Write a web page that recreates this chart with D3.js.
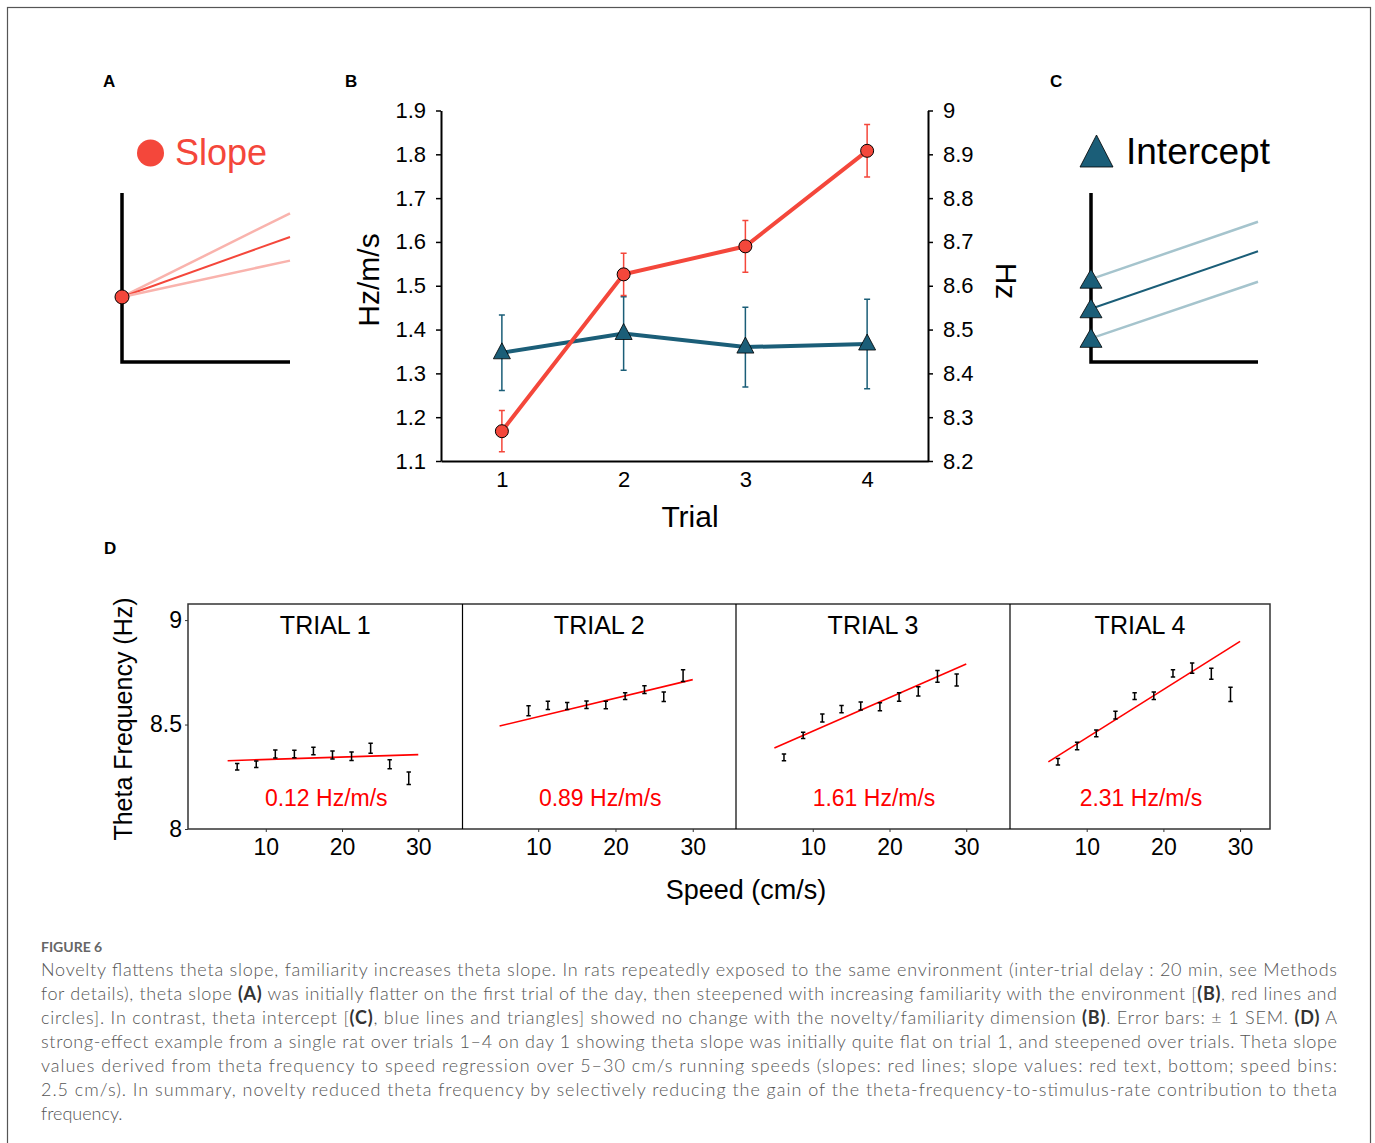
<!DOCTYPE html>
<html>
<head>
<meta charset="utf-8">
<title>Figure 6</title>
<script src="https://cdn.jsdelivr.net/npm/d3@7"></script>
<style>
  body { margin: 0; background: #fff; }
  svg text { font-family: "Liberation Sans", Arial, sans-serif; }
  .caption text { font-family: Lato, "Open Sans", sans-serif; }
</style>
</head>
<body>
<script>
// ---------------- data ----------------
// panel B: mean theta slope (Hz/m/s, left axis) and intercept (Hz, right axis) per trial
var trials = [1, 2, 3, 4];
var slopeMean = [1.168, 1.526, 1.590, 1.808];
var slopeSem = [0.047, 0.048, 0.059, 0.060];
var interceptMean = [8.447, 8.491, 8.460, 8.467];
var interceptSem = [0.086, 0.084, 0.091, 0.102];
var slopeTicks = [1.1, 1.2, 1.3, 1.4, 1.5, 1.6, 1.7, 1.8, 1.9];
var hzTicks = [8.2, 8.3, 8.4, 8.5, 8.6, 8.7, 8.8, 8.9, 9];

// panel A / C: schematic lines (0..1 units)
var slopeDemoStart = 0.385;
var slopeDemoEnds = [0.88, 0.74, 0.60];
var interceptDemoStarts = [0.49, 0.315, 0.14];
var interceptDemoEnds = [0.83, 0.655, 0.475];

// panel D: theta frequency vs running speed, one rat, day 1
var speedBins = [6.25, 8.75, 11.25, 13.75, 16.25, 18.75, 21.25, 23.75, 26.25, 28.75];
var trialNames = ["TRIAL 1", "TRIAL 2", "TRIAL 3", "TRIAL 4"];
var trial1Freq = [8.298, 8.310, 8.359, 8.359, 8.373, 8.354, 8.348, 8.386, 8.310, 8.243];
var trial1Err = [0.016, 0.016, 0.019, 0.018, 0.018, 0.019, 0.020, 0.024, 0.022, 0.030];
var trial2Freq = [null, 8.566, 8.592, 8.589, 8.595, 8.593, 8.636, 8.667, 8.633, 8.734];
var trial2Err = [null, 0.024, 0.020, 0.017, 0.018, 0.018, 0.016, 0.019, 0.023, 0.028];
var trial3Freq = [8.343, 8.448, 8.531, 8.574, 8.589, 8.585, 8.632, 8.659, 8.731, 8.713];
var trial3Err = [0.016, 0.015, 0.019, 0.017, 0.019, 0.019, 0.020, 0.022, 0.028, 0.029];
var trial4Freq = [8.322, 8.397, 8.458, 8.545, 8.636, 8.638, 8.745, 8.770, 8.743, 8.644];
var trial4Err = [0.016, 0.018, 0.016, 0.019, 0.016, 0.018, 0.017, 0.024, 0.026, 0.034];
// regression line ends at 5 and 30 cm/s
var fitSpeeds = [5, 30];
var fitAt5 = [8.327, 8.493, 8.388, 8.321];
var fitAt30 = [8.356, 8.715, 8.790, 8.898];
var slopeLabels = ["0.12 Hz/m/s", "0.89 Hz/m/s", "1.61 Hz/m/s", "2.31 Hz/m/s"];
var speedTicks = [10, 20, 30];
var freqTicks = [8, 8.5, 9];

var captionLines = [
  "Novelty flattens theta slope, familiarity increases theta slope. In rats repeatedly exposed to the same environment (inter-trial delay : 20 min, see Methods",
  "for details), theta slope (A) was initially flatter on the first trial of the day, then steepened with increasing familiarity with the environment [(B), red lines and",
  "circles]. In contrast, theta intercept [(C), blue lines and triangles] showed no change with the novelty/familiarity dimension (B). Error bars: \u00b1 1 SEM. (D) A",
  "strong-effect example from a single rat over trials 1\u20134 on day 1 showing theta slope was initially quite flat on trial 1, and steepened over trials. Theta slope",
  "values derived from theta frequency to speed regression over 5\u201330 cm/s running speeds (slopes: red lines; slope values: red text, bottom; speed bins:",
  "2.5 cm/s). In summary, novelty reduced theta frequency by selectively reducing the gain of the theta-frequency-to-stimulus-rate contribution to theta",
  "frequency."
];

// ---------------- colours ----------------
var red = "#f4473b";
var redLight = "#f9b3ad";
var blue = "#1b5e78";
var blueLight = "#a5c4cd";

var svg = d3.select("body").append("svg")
  .attr("width", 1375)
  .attr("height", 1143);

// frame round the whole figure
svg.append("rect")
  .attr("x", 7.5).attr("y", 7.5)
  .attr("width", 1363).attr("height", 1200)
  .attr("fill", "none").attr("stroke", "#555").attr("stroke-width", 1.2);

// panel letters
[["A", 103, 87], ["B", 345, 87], ["C", 1050, 87], ["D", 104, 554]].forEach(function(p) {
  svg.append("text").attr("x", p[1]).attr("y", p[2])
    .attr("font-size", 17).attr("font-weight", "bold").text(p[0]);
});

// ---------------- panel A ----------------
var ax = d3.scaleLinear().domain([0, 1]).range([122, 290]);
var ay = d3.scaleLinear().domain([0, 1]).range([362, 193]);
var gA = svg.append("g");
gA.append("circle").attr("cx", 150.5).attr("cy", 153).attr("r", 13.5).attr("fill", red);
gA.append("text").attr("x", 175).attr("y", 165).attr("font-size", 36).attr("fill", red).text("Slope");
gA.selectAll(".demo").data(slopeDemoEnds).enter().append("line")
  .attr("x1", ax(0)).attr("y1", ay(slopeDemoStart))
  .attr("x2", ax(1)).attr("y2", function(d) { return ay(d); })
  .attr("stroke", function(d, i) { return i == 1 ? red : redLight; })
  .attr("stroke-width", function(d, i) { return i == 1 ? 2 : 2.5; });
gA.append("path")
  .attr("d", "M" + ax(0) + "," + ay(1) + "V" + ay(0) + "H" + ax(1))
  .attr("fill", "none").attr("stroke", "#000").attr("stroke-width", 3.5);
gA.append("circle").attr("cx", ax(0)).attr("cy", ay(slopeDemoStart)).attr("r", 7)
  .attr("fill", red).attr("stroke", "#000").attr("stroke-width", 1);

// ---------------- panel C ----------------
var cx = d3.scaleLinear().domain([0, 1]).range([1091, 1258]);
var cy = ay;
var gC = svg.append("g");
gC.append("path").attr("d", "M1096.5,135L1113,167L1080,167Z").attr("fill", blue).attr("stroke", "#000").attr("stroke-width", 0.8);
gC.append("text").attr("x", 1126).attr("y", 164).attr("font-size", 37).attr("fill", "#000").text("Intercept");
gC.selectAll(".demo").data(interceptDemoStarts).enter().append("line")
  .attr("x1", cx(0)).attr("y1", function(d) { return cy(d); })
  .attr("x2", cx(1)).attr("y2", function(d, i) { return cy(interceptDemoEnds[i]); })
  .attr("stroke", function(d, i) { return i == 1 ? blue : blueLight; })
  .attr("stroke-width", function(d, i) { return i == 1 ? 2 : 2.5; });
gC.append("path")
  .attr("d", "M" + cx(0) + "," + cy(1) + "V" + cy(0) + "H" + cx(1))
  .attr("fill", "none").attr("stroke", "#000").attr("stroke-width", 3.5);
gC.selectAll(".tri").data(interceptDemoStarts).enter().append("path")
  .attr("transform", function(d) { return "translate(" + cx(0) + "," + cy(d) + ")"; })
  .attr("d", "M0,-10L11,9L-11,9Z")
  .attr("fill", blue).attr("stroke", "#000").attr("stroke-width", 0.8);

// ---------------- panel B ----------------
var bx = d3.scaleLinear().domain([0.5, 4.5]).range([441, 928]);
var byL = d3.scaleLinear().domain([1.1, 1.9]).range([461, 110.5]);
var byR = d3.scaleLinear().domain([8.2, 9]).range([461, 110.5]);
var gB = svg.append("g");

var axL = gB.append("g").attr("transform", "translate(441,0)")
  .call(d3.axisLeft(byL).tickValues(slopeTicks).tickFormat(d3.format(".1f")).tickSize(5).tickSizeOuter(0).tickPadding(10));
var axR = gB.append("g").attr("transform", "translate(928,0)")
  .call(d3.axisRight(byR).tickValues(hzTicks).tickFormat(function(d) { return d == 9 ? "9" : d3.format(".1f")(d); }).tickSize(5).tickSizeOuter(0).tickPadding(10));
var axB = gB.append("g").attr("transform", "translate(0,461)")
  .call(d3.axisBottom(bx).tickValues(trials).tickFormat(d3.format("d")).tickSize(0).tickSizeOuter(0).tickPadding(10));
[axL, axR, axB].forEach(function(a) {
  a.selectAll("text").attr("font-size", 22).attr("fill", "#000");
  a.selectAll("line").attr("stroke", "#000").attr("stroke-width", 1.5);
  a.select(".domain").attr("stroke", "#000").attr("stroke-width", 2);
});

gB.append("text").attr("transform", "translate(379,280) rotate(-90)")
  .attr("text-anchor", "middle").attr("font-size", 30).text("Hz/m/s");
gB.append("text").attr("transform", "translate(996,281) rotate(90)")
  .attr("text-anchor", "middle").attr("font-size", 30).text("Hz");
gB.append("text").attr("x", 690).attr("y", 527)
  .attr("text-anchor", "middle").attr("font-size", 30).text("Trial");

function errorBars(g, means, sems, yScale, colour) {
  var cap = 3;
  trials.forEach(function(t, i) {
    var x = bx(t), y0 = yScale(means[i] - sems[i]), y1 = yScale(means[i] + sems[i]);
    g.append("path")
      .attr("d", "M" + x + "," + y0 + "V" + y1 + "M" + (x - cap) + "," + y0 + "H" + (x + cap) + "M" + (x - cap) + "," + y1 + "H" + (x + cap))
      .attr("stroke", colour).attr("stroke-width", 1.5).attr("fill", "none");
  });
}

// intercept series (blue, right axis)
errorBars(gB, interceptMean, interceptSem, byR, blue);
gB.append("path").datum(trials)
  .attr("d", d3.line().x(function(d) { return bx(d); }).y(function(d, i) { return byR(interceptMean[i]); }))
  .attr("fill", "none").attr("stroke", blue).attr("stroke-width", 4);
gB.selectAll(".tri").data(trials).enter().append("path")
  .attr("transform", function(d, i) { return "translate(" + bx(d) + "," + byR(interceptMean[i]) + ")"; })
  .attr("d", "M0,-10L8.5,6L-8.5,6Z")
  .attr("fill", blue).attr("stroke", "#000").attr("stroke-width", 0.8);

// slope series (red, left axis)
errorBars(gB, slopeMean, slopeSem, byL, red);
gB.append("path").datum(trials)
  .attr("d", d3.line().x(function(d) { return bx(d); }).y(function(d, i) { return byL(slopeMean[i]); }))
  .attr("fill", "none").attr("stroke", red).attr("stroke-width", 4);
gB.selectAll(".dot").data(trials).enter().append("circle")
  .attr("cx", function(d) { return bx(d); })
  .attr("cy", function(d, i) { return byL(slopeMean[i]); })
  .attr("r", 6.5)
  .attr("fill", red).attr("stroke", "#000").attr("stroke-width", 1);

// ---------------- panel D ----------------
var dy = d3.scaleLinear().domain([8, 9.077]).range([829, 604]);
var panelEdges = [188, 462.5, 736, 1010, 1270];
var speedDomains = [[-0.2, 35.8], [0.2, 35.6], [0, 35.7], [0, 33.9]];
var freqs = [trial1Freq, trial2Freq, trial3Freq, trial4Freq];
var errs = [trial1Err, trial2Err, trial3Err, trial4Err];
var gD = svg.append("g");

trialNames.forEach(function(name, k) {
  var x = d3.scaleLinear().domain(speedDomains[k]).range([panelEdges[k], panelEdges[k + 1]]);
  var g = gD.append("g");
  var mid = (panelEdges[k] + panelEdges[k + 1]) / 2;

  var xa = g.append("g").attr("transform", "translate(0,829)")
    .call(d3.axisBottom(x).tickValues(speedTicks).tickSize(3).tickSizeOuter(0).tickPadding(7));
  xa.select(".domain").remove();
  xa.selectAll("text").attr("font-size", 23).attr("fill", "#000");
  xa.selectAll("line").attr("stroke", "#333");

  g.append("text").attr("x", mid).attr("y", 634).attr("text-anchor", "middle")
    .attr("font-size", 25).text(name);
  g.append("text").attr("x", mid + 1).attr("y", 806).attr("text-anchor", "middle")
    .attr("font-size", 23).attr("fill", "#ff0000").text(slopeLabels[k]);

  g.append("line")
    .attr("x1", x(fitSpeeds[0])).attr("y1", dy(fitAt5[k]))
    .attr("x2", x(fitSpeeds[1])).attr("y2", dy(fitAt30[k]))
    .attr("stroke", "#ff0000").attr("stroke-width", 1.6);

  speedBins.forEach(function(s, i) {
    if (freqs[k][i] == null) return;
    var px = x(s), y0 = dy(freqs[k][i] - errs[k][i]), y1 = dy(freqs[k][i] + errs[k][i]);
    g.append("path")
      .attr("d", "M" + px + "," + y0 + "V" + y1 + "M" + (px - 2.2) + "," + y0 + "H" + (px + 2.2) + "M" + (px - 2.2) + "," + y1 + "H" + (px + 2.2))
      .attr("stroke", "#000").attr("stroke-width", 1.5).attr("fill", "none");
  });
});

// panel frame and dividers
gD.append("rect").attr("x", 188).attr("y", 604).attr("width", 1270 - 188).attr("height", 829 - 604)
  .attr("fill", "none").attr("stroke", "#333").attr("stroke-width", 1.5);
gD.selectAll(".div").data(panelEdges.slice(1, 4)).enter().append("line")
  .attr("x1", function(d) { return d; }).attr("x2", function(d) { return d; })
  .attr("y1", 604).attr("y2", 829).attr("stroke", "#000").attr("stroke-width", 1.2);

var ya = gD.append("g").attr("transform", "translate(188,0)")
  .call(d3.axisLeft(dy).tickValues(freqTicks).tickFormat(function(d) { return d == 8.5 ? "8.5" : d3.format("d")(d); }).tickSize(3).tickSizeOuter(0).tickPadding(3));
ya.select(".domain").remove();
ya.selectAll("text").attr("font-size", 23).attr("fill", "#000");
ya.selectAll("line").attr("stroke", "#333");

gD.append("text").attr("transform", "translate(132,719) rotate(-90)")
  .attr("text-anchor", "middle").attr("font-size", 25).text("Theta Frequency (Hz)");
gD.append("text").attr("x", 746).attr("y", 899)
  .attr("text-anchor", "middle").attr("font-size", 27).text("Speed (cm/s)");

// ---------------- caption ----------------
var cap = svg.append("g").attr("class", "caption");
cap.append("text").attr("x", 41).attr("y", 952)
  .attr("font-size", 14).attr("font-weight", "bold").attr("fill", "#666").text("FIGURE 6");

captionLines.forEach(function(line, i) {
  var t = cap.append("text").attr("x", 41).attr("y", 976 + i * 24)
    .attr("font-size", 18).attr("font-weight", 300).attr("fill", "#555");
  if (i < captionLines.length - 1) t.attr("textLength", 1296).attr("lengthAdjust", "spacing");
  line.split(/(\([A-D]\))/).forEach(function(part) {
    if (part == "") return;
    var bold = /^\([A-D]\)$/.test(part);
    t.append("tspan").attr("font-weight", bold ? "bold" : null)
      .attr("fill", bold ? "#333" : null).text(part);
  });
});
</script>
</body>
</html>
